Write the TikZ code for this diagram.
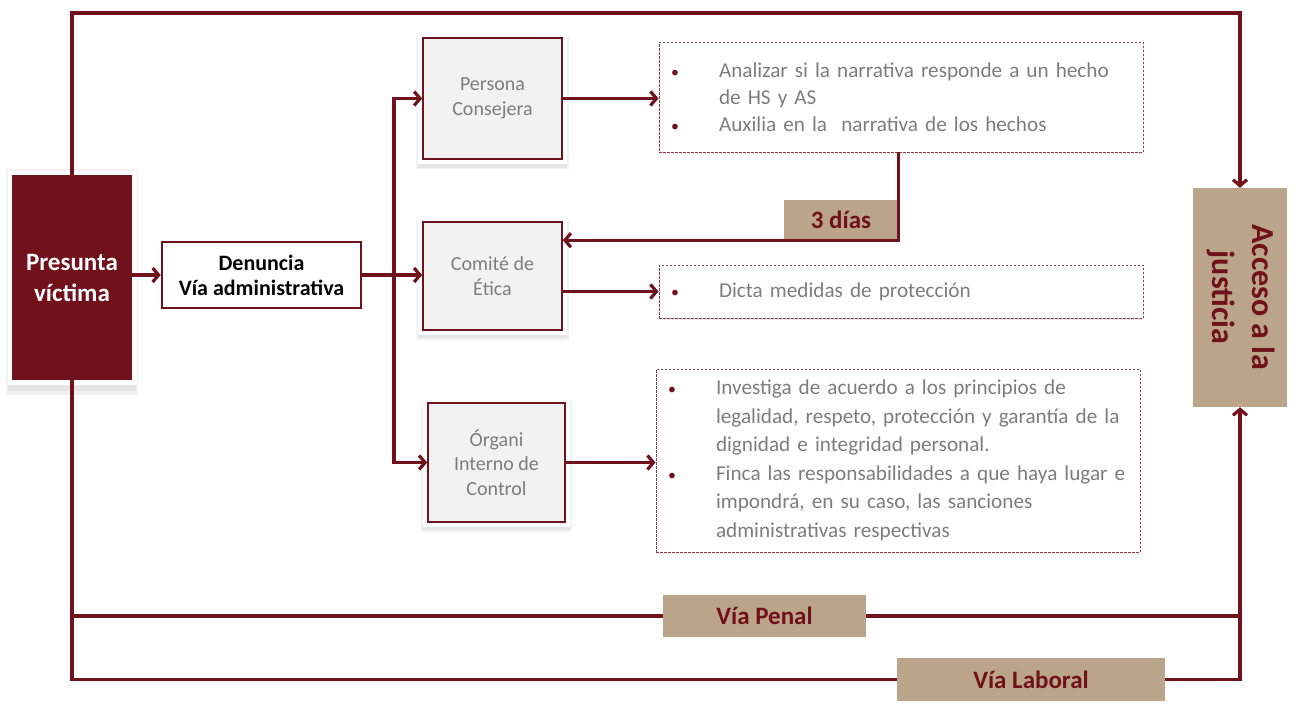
\documentclass[tikz,border=0pt]{standalone}
\usepackage{fontspec}
\setmainfont{Carlito}
\usetikzlibrary{arrows.meta,shadows}

\definecolor{maroon}{RGB}{112,17,28}
\definecolor{tanbox}{RGB}{187,165,138}
\definecolor{boxgray}{RGB}{242,242,242}
\definecolor{textgray}{RGB}{125,125,125}

\newcommand{\bulletline}[1]{\makebox[48pt][l]{\textcolor{maroon}{\scalebox{0.75}{\textbullet}}}\mbox{#1}}
\newcommand{\plainline}[1]{\hspace*{48pt}\mbox{#1}}

\begin{document}
\begin{tikzpicture}[
      x=1pt, y=-1pt,
      softshadow/.style={
        general shadow={fill=black, opacity=0.05, shadow yshift=-4pt, shadow scale=1.10},
        general shadow={fill=black, opacity=0.06, shadow yshift=-4pt, shadow scale=1.07}},
      victim/.style={rectangle, fill=maroon, text=white, align=center,
        font=\fontsize{25}{31}\selectfont\bfseries, softshadow,
        preaction={draw=white, line width=9pt}},
      entity/.style={rectangle, draw=maroon, line width=1.6pt, fill=boxgray,
        text=textgray, align=center, font=\fontsize{20}{24.5}\selectfont,
        softshadow, preaction={draw=white, line width=10pt}},
      listbox/.style={rectangle, draw=maroon!80, line width=0.9pt,
        dash pattern=on 2.5pt off 1.5pt, fill=white, text=textgray,
        text width=460pt, inner xsep=12pt, align=left,
        font=\fontsize{21.2}{27}\selectfont,
        drop shadow={shadow xshift=1pt, shadow yshift=-2pt, opacity=0.08, fill=black}},
      tag/.style={rectangle, fill=tanbox, text=maroon, font=\fontsize{25}{31}\selectfont\bfseries},
      arrow/.style={draw=maroon, line width=3.2pt, -{Straight Barb[length=6pt, width=14pt]}},
      link/.style={draw=maroon, line width=3.2pt}
    ]
    \useasboundingbox (0,0) rectangle (1304,713);

    % Boxes
    \node[victim, minimum width=120pt, minimum height=205pt] (victim) at (72,277.5) {Presunta\\víctima};
    \node[draw=maroon, line width=2.5pt, fill=white, align=center, minimum width=199pt, minimum height=66pt,
      font=\fontsize{22}{25}\selectfont\bfseries] (denuncia) at (261.5,275) {Denuncia\\Vía administrativa};
    \node[entity, minimum width=139pt, minimum height=121pt] (persona) at (492.5,98.5) {Persona\\Consejera};
    \node[entity, minimum width=139pt, minimum height=108pt] (comite) at (492.5,276) {Comité de\\Ética};
    \node[entity, minimum width=137pt, minimum height=119pt] (organo) at (496.5,462.5) {Órgani\\Interno de\\Control};

    % Lists
    \node[listbox, minimum height=110pt] (b1) at (901,97) {%
      \bulletline{Analizar si la narrativa responde a un hecho}\\
      \plainline{de HS y AS}\\
      \bulletline{Auxilia en la\ \ narrativa de los hechos}};
    \node[listbox, minimum height=53pt] (b2) at (901,291.5) {%
      \bulletline{Dicta medidas de protección}};
    \node[listbox, minimum height=183pt, font=\fontsize{21.2}{28.5}\selectfont] (b3) at (898,460.5) {%
      \bulletline{Investiga de acuerdo a los principios de}\\
      \plainline{legalidad, respeto, protección y garantía de la}\\
      \plainline{dignidad e integridad personal.}\\
      \bulletline{Finca las responsabilidades a que haya lugar e}\\
      \plainline{impondrá, en su caso, las sanciones}\\
      \plainline{administrativas respectivas}};

    % Tags
    \node[tag, minimum width=114pt, minimum height=40pt] (dias) at (841,220) {3 días};
    \node[tag, minimum width=94pt, minimum height=219pt] (acceso) at (1240,297.5)
      {\rotatebox{-90}{\fontsize{32}{40}\selectfont\begin{tabular}{@{}c@{}}Acceso a la\\justicia\end{tabular}}};
    \node[tag, minimum width=203pt, minimum height=42pt] (penal) at (764.5,616) {Vía Penal};
    \node[tag, minimum width=268pt, minimum height=43pt] (laboral) at (1031,679.5) {Vía Laboral};

    \coordinate (split) at (394,275);
    \coordinate (top) at (640,13);

    % Administrative route
    \draw[arrow] (victim.east |- denuncia) -- (denuncia.west);
    \draw[link] (denuncia.east) -- (split);
    \draw[arrow] (split) |- (persona.west);
    \draw[arrow] (split) -- (split -| comite.west);
    \draw[arrow] (split) |- (organo.west);
    \draw[arrow] (persona.east) -- (persona.east -| b1.west);
    \draw[arrow] (comite.east |- b2.west) -- (b2.west);
    \draw[arrow] (organo.east) -- (organo.east -| b3.west);
    \draw[arrow] (dias.east |- b1.south) -- (dias.south east) -- (dias.south east -| comite.east);

    % Other routes
    \draw[arrow] (victim.north) |- (top) -| (acceso.north);
    \draw[link] (victim.south) |- (laboral.west);
    \draw[arrow] (laboral.east) -| (acceso.south);
    \draw[link] (victim.south |- penal.west) -- (penal.west);
    \draw[link] (penal.east) -- (penal.east -| acceso.south);
  \end{tikzpicture}
\end{document}
